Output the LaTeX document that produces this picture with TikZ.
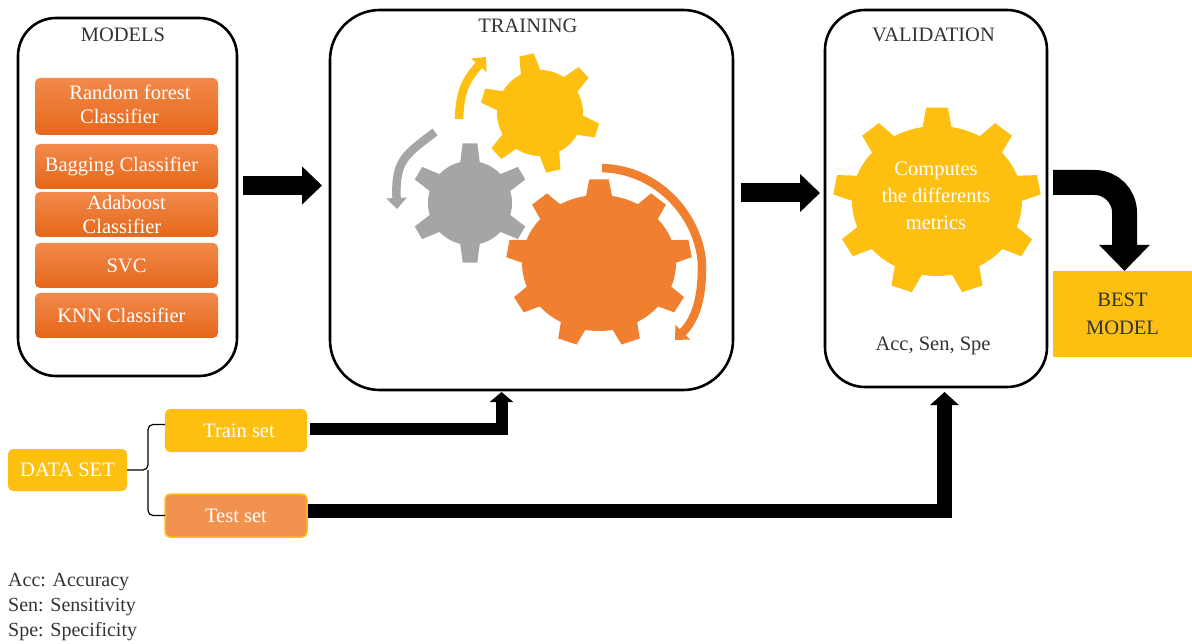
\documentclass[tikz,border=0pt]{standalone}
\usepackage{fontspec}
\setmainfont{Liberation Serif}
\usetikzlibrary{arrows.meta, positioning}

\definecolor{gearyellow}{HTML}{FDC010}
\definecolor{gearorange}{HTML}{F07F30}
\definecolor{geargray}{HTML}{A5A5A5}
\definecolor{inkgray}{HTML}{333333}
\definecolor{modeltop}{HTML}{F2894B}
\definecolor{modelbottom}{HTML}{E5671A}

\tikzset{
  stage/.style={draw, line width=2.6pt, rounded corners=#1, inner sep=0pt, outer sep=0pt},
  title/.style={text=inkgray, inner sep=0pt},
  modelbox/.style={rounded corners=5pt, top color=modeltop, bottom color=modelbottom, text=white, minimum width=183pt, inner sep=0pt, outer sep=0pt, align=center},
  setbox/.style={fill=gearyellow, rounded corners=5pt, text=white, minimum width=142pt, minimum height=43pt, inner sep=0pt, outer sep=0pt},
  bigarrow/.style={line width=#1, -{Triangle[length=20pt,width=37pt]}},
  feedarrow/.style n args={3}{line width=#1, -{Triangle[length=#2,width=#3]}},
  spin/.style={line width=8.5pt, #1, -{Triangle[length=11pt,width=20pt]}}
}

% body ellipse, teeth length, number of teeth, first tooth angle, half angles of the teeth
\newcommand{\gearwheel}[9]{
  \begin{scope}[shift={#1}, fill=#2]
    \fill (0,0) ellipse [x radius=#3pt, y radius=#4pt];
    \foreach \k in {1,...,#6} {
      \pgfmathsetmacro\a{#7-(\k-1)*360/#6}
      \fill ({\a-#8}:{#3pt-1pt} and {#4pt-1pt}) -- ({\a-#9}:{#3pt+#5pt} and {#4pt+#5pt})
        -- ({\a+#9}:{#3pt+#5pt} and {#4pt+#5pt}) -- ({\a+#8}:{#3pt-1pt} and {#4pt-1pt}) -- cycle;
    }
  \end{scope}
}

\begin{document}
\begin{tikzpicture}[x=1pt, y=-1pt, every node/.style={font=\fontsize{20.5}{24}\selectfont}]
  \useasboundingbox (0,0) rectangle (1192,644);

% define the three stages
  \node[stage=38pt, minimum width=219pt, minimum height=358pt] (models) at (127.5,197) {};
  \node[stage=50pt, minimum width=403pt, minimum height=380pt] (training) at (531.5,200) {};
  \node[stage=40pt, minimum width=222pt, minimum height=377pt] (validation) at (936,198.5) {};
  \node[title] (modelstitle) at (123,35) {MODELS};
  \node[title] (trainingtitle) at (528,26) {TRAINING};
  \node[title] (validationtitle) at (933.5,35) {VALIDATION};
  \node[title] (metrics) at (933,346) {Acc, Sen, Spe};

% define the models
  \node[modelbox, minimum height=57pt] (forest) at (126.5,106.5) {\hspace*{7pt}Random forest\\Classifier\hspace*{14pt}\rule[-4pt]{0pt}{4pt}};
  \node[modelbox, minimum height=45pt, below=9pt of forest] (bagging) {Bagging Classifier\hspace*{10pt}};
  \node[modelbox, minimum height=45pt, below=3pt of bagging] (adaboost) {Adaboost\\Classifier\hspace*{9pt}};
  \node[modelbox, minimum height=45pt, below=6pt of adaboost] (svc) {SVC};
  \node[modelbox, minimum height=45pt, below=5pt of svc] (knn) {KNN Classifier\hspace*{10pt}};

% define the gears
  \gearwheel{(540,113)}{gearyellow}{43}{43}{17}{6}{103}{14}{7}
  \gearwheel{(470,203)}{geargray}{42}{42}{18}{6}{90}{14}{7}
  \gearwheel{(599,263)}{gearorange}{77}{68}{16}{9}{90}{10}{6}
  \gearwheel{(937,201)}{gearyellow}{85}{75}{19}{9}{90}{10}{6}
  \node[text=white, align=center, font=\fontsize{20.5}{27}\selectfont, inner sep=0pt] (computes) at (936,196) {Computes\\the differents\\metrics};

% define the data sets
  \node[setbox, minimum width=119pt, minimum height=42pt] (dataset) at (67.5,470) {DATA SET};
  \node[setbox] (trainset) at (236,430.5) {\hspace*{6pt}Train set};
  \node[setbox, fill=gearorange!85!white, draw=gearyellow, line width=1.5pt] (testset) at (236,515.5) {Test set};
  \node[fill=gearyellow, text=inkgray, minimum width=139pt, minimum height=86pt, align=center, inner sep=0pt, outer sep=0pt, font=\fontsize{20.5}{28}\selectfont] (bestmodel) at (1122.5,314) {BEST\\MODEL};
  \node[title, align=left, anchor=north west, font=\fontsize{20}{25}\selectfont] (legend) at (8,573) {Acc: Accuracy\\Sen: Sensitivity\\Spe: Specificity};

% define the free ends
  \coordinate (modelsout) at (243,185.5);
  \coordinate (trainingin) at (322,185.5);
  \coordinate (trainingout) at (741,193);
  \coordinate (validationin) at (820,193);
  \coordinate (validationout) at (1053,182.5);
  \coordinate (trainout) at (310,429);
  \coordinate (trainin) at (501.5,392);
  \coordinate (testout) at (308,511);
  \coordinate (testin) at (944.5,392);
  \coordinate (bracefork) at (148,470);
  \coordinate (yellowa) at (459,119);
  \coordinate (yellowb) at (486,57);
  \coordinate (graya) at (435,132);
  \coordinate (grayb) at (397,209);
  \coordinate (orangea) at (602,168);
  \coordinate (orangeb) at (675,340);

% define the links
  \draw[bigarrow=19pt] (modelsout) -- (trainingin);
  \draw[bigarrow=19pt] (trainingout) -- (validationin);
  \draw[bigarrow=25pt, -{Triangle[length=26pt,width=49pt]}, rounded corners=30pt] (validationout) -| ([xshift=2pt]bestmodel.north);
  \draw[feedarrow={12pt}{10pt}{23pt}] (trainout) -| (trainin);
  \draw[feedarrow={14.5pt}{13pt}{28pt}] (testout) -| (testin);
  \draw[line width=1.2pt, rounded corners=5pt] (dataset.east) -- (bracefork) |- ([yshift=6pt]trainset.west);
  \draw[line width=1.2pt, rounded corners=5pt] (bracefork) |- (testset.west);

  \draw[spin=gearyellow] (yellowa) .. controls (460,90) and (466,80) .. (yellowb);
  \draw[spin=geargray] (graya) .. controls (405,155) and (395,160) .. (grayb);
  \draw[spin=gearorange] (orangea) .. controls (665,170) and (702,225) .. (702,267) .. controls (702,300) and (695,320) .. (orangeb);
\end{tikzpicture}
\end{document}
